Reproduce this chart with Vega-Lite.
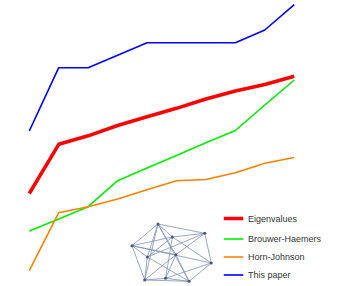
{
  "$schema": "https://vega.github.io/schema/vega-lite/v6.json",
  "width": 361,
  "height": 286,
  "autosize": "none",
  "padding": 0,
  "config": {"view": {"stroke": null}},
  "datasets": {
    "lines": [
      {"series": "Eigenvalues", "k": 0, "v": 9.25},
      {"series": "Eigenvalues", "k": 1, "v": 14.17},
      {"series": "Eigenvalues", "k": 2, "v": 15.02},
      {"series": "Eigenvalues", "k": 3, "v": 16.05},
      {"series": "Eigenvalues", "k": 4, "v": 16.92},
      {"series": "Eigenvalues", "k": 5, "v": 17.77},
      {"series": "Eigenvalues", "k": 6, "v": 18.7},
      {"series": "Eigenvalues", "k": 7, "v": 19.5},
      {"series": "Eigenvalues", "k": 8, "v": 20.15},
      {"series": "Eigenvalues", "k": 9, "v": 20.98},
      {"series": "Brouwer-Haemers", "k": 0, "v": 5.5},
      {"series": "Brouwer-Haemers", "k": 1, "v": 6.7},
      {"series": "Brouwer-Haemers", "k": 2, "v": 7.93},
      {"series": "Brouwer-Haemers", "k": 3, "v": 10.53},
      {"series": "Brouwer-Haemers", "k": 4, "v": 11.8},
      {"series": "Brouwer-Haemers", "k": 5, "v": 13.06},
      {"series": "Brouwer-Haemers", "k": 6, "v": 14.33},
      {"series": "Brouwer-Haemers", "k": 7, "v": 15.55},
      {"series": "Brouwer-Haemers", "k": 8, "v": 18.1},
      {"series": "Brouwer-Haemers", "k": 9, "v": 20.6},
      {"series": "Horn-Johnson", "k": 0, "v": 1.53},
      {"series": "Horn-Johnson", "k": 1, "v": 7.33},
      {"series": "Horn-Johnson", "k": 2, "v": 7.93},
      {"series": "Horn-Johnson", "k": 3, "v": 8.7},
      {"series": "Horn-Johnson", "k": 4, "v": 9.63},
      {"series": "Horn-Johnson", "k": 5, "v": 10.53},
      {"series": "Horn-Johnson", "k": 6, "v": 10.65},
      {"series": "Horn-Johnson", "k": 7, "v": 11.32},
      {"series": "Horn-Johnson", "k": 8, "v": 12.27},
      {"series": "Horn-Johnson", "k": 9, "v": 12.85},
      {"series": "This paper", "k": 0, "v": 15.5},
      {"series": "This paper", "k": 1, "v": 21.83},
      {"series": "This paper", "k": 2, "v": 21.83},
      {"series": "This paper", "k": 3, "v": 23.08},
      {"series": "This paper", "k": 4, "v": 24.33},
      {"series": "This paper", "k": 5, "v": 24.33},
      {"series": "This paper", "k": 6, "v": 24.33},
      {"series": "This paper", "k": 7, "v": 24.33},
      {"series": "This paper", "k": 8, "v": 25.6},
      {"series": "This paper", "k": 9, "v": 28.13}
    ],
    "nodes": [
      {"id": "A", "x": 4.37, "y": 6.2},
      {"id": "B", "x": 4.86, "y": 4.9},
      {"id": "C", "x": 5.96, "y": 5.27},
      {"id": "D", "x": 3.49, "y": 4.03},
      {"id": "E", "x": 4.01, "y": 2.9},
      {"id": "F", "x": 4.98, "y": 3.13},
      {"id": "G", "x": 6.18, "y": 2.3},
      {"id": "H", "x": 3.92, "y": 0.6},
      {"id": "I", "x": 4.63, "y": 0.77},
      {"id": "J", "x": 5.43, "y": 0.47}
    ],
    "edges": [
      {"x1": 4.37, "y1": 6.2, "x2": 4.86, "y2": 4.9},
      {"x1": 4.37, "y1": 6.2, "x2": 5.96, "y2": 5.27},
      {"x1": 4.37, "y1": 6.2, "x2": 3.49, "y2": 4.03},
      {"x1": 4.37, "y1": 6.2, "x2": 4.01, "y2": 2.9},
      {"x1": 4.37, "y1": 6.2, "x2": 4.98, "y2": 3.13},
      {"x1": 4.37, "y1": 6.2, "x2": 3.92, "y2": 0.6},
      {"x1": 4.37, "y1": 6.2, "x2": 5.43, "y2": 0.47},
      {"x1": 4.86, "y1": 4.9, "x2": 5.96, "y2": 5.27},
      {"x1": 4.86, "y1": 4.9, "x2": 3.49, "y2": 4.03},
      {"x1": 4.86, "y1": 4.9, "x2": 4.01, "y2": 2.9},
      {"x1": 4.86, "y1": 4.9, "x2": 4.63, "y2": 0.77},
      {"x1": 4.86, "y1": 4.9, "x2": 6.18, "y2": 2.3},
      {"x1": 5.96, "y1": 5.27, "x2": 6.18, "y2": 2.3},
      {"x1": 5.96, "y1": 5.27, "x2": 4.98, "y2": 3.13},
      {"x1": 5.96, "y1": 5.27, "x2": 4.01, "y2": 2.9},
      {"x1": 3.49, "y1": 4.03, "x2": 4.01, "y2": 2.9},
      {"x1": 3.49, "y1": 4.03, "x2": 3.92, "y2": 0.6},
      {"x1": 3.49, "y1": 4.03, "x2": 4.98, "y2": 3.13},
      {"x1": 3.49, "y1": 4.03, "x2": 6.18, "y2": 2.3},
      {"x1": 4.01, "y1": 2.9, "x2": 3.92, "y2": 0.6},
      {"x1": 4.01, "y1": 2.9, "x2": 5.43, "y2": 0.47},
      {"x1": 4.98, "y1": 3.13, "x2": 3.92, "y2": 0.6},
      {"x1": 4.98, "y1": 3.13, "x2": 4.63, "y2": 0.77},
      {"x1": 4.98, "y1": 3.13, "x2": 5.43, "y2": 0.47},
      {"x1": 6.18, "y1": 2.3, "x2": 5.43, "y2": 0.47},
      {"x1": 6.18, "y1": 2.3, "x2": 4.63, "y2": 0.77},
      {"x1": 3.92, "y1": 0.6, "x2": 4.63, "y2": 0.77},
      {"x1": 3.92, "y1": 0.6, "x2": 5.43, "y2": 0.47},
      {"x1": 4.63, "y1": 0.77, "x2": 5.43, "y2": 0.47}
    ]
  },
  "layer": [
    {
      "data": {"name": "edges"},
      "mark": {"type": "rule", "color": "#7d90b6", "strokeWidth": 0.8},
      "encoding": {
        "x": {"field": "x1", "type": "quantitative", "scale": {"domain": [-0.995, 11.267], "nice": false, "zero": false}, "axis": null},
        "y": {"field": "y1", "type": "quantitative", "scale": {"domain": [0, 28.6], "nice": false, "zero": false}, "axis": null},
        "x2": {"field": "x2"},
        "y2": {"field": "y2"}
      }
    },
    {
      "data": {"name": "nodes"},
      "mark": {"type": "circle", "size": 9, "color": "#4a5573", "opacity": 1},
      "encoding": {
        "x": {"field": "x", "type": "quantitative", "axis": null},
        "y": {"field": "y", "type": "quantitative", "axis": null}
      }
    },
    {
      "data": {"name": "lines"},
      "mark": {"type": "line", "strokeJoin": "round"},
      "encoding": {
        "x": {"field": "k", "type": "quantitative", "axis": null},
        "y": {"field": "v", "type": "quantitative", "axis": null},
        "color": {
          "field": "series", "type": "nominal",
          "scale": {"domain": ["Eigenvalues", "Brouwer-Haemers", "Horn-Johnson", "This paper"], "range": ["#ff0000", "#00ee00", "#ff8000", "#0000ff"]},
          "legend": {
            "title": null, "orient": "none", "legendX": 222, "legendY": 207, "padding": 0,
            "symbolType": "stroke", "symbolSize": 380, "rowPadding": 2, "labelOffset": 3,
            "labelFont": "Liberation Sans", "labelFontSize": 9, "labelColor": "#333333"
          }
        },
        "strokeWidth": {
          "field": "series", "type": "nominal",
          "scale": {"type": "ordinal", "domain": ["Eigenvalues", "Brouwer-Haemers", "Horn-Johnson", "This paper"], "range": [3.5, 1.6, 1.6, 1.6]},
          "legend": {
            "title": null, "orient": "none", "legendX": 222, "legendY": 207, "padding": 0,
            "symbolType": "stroke", "symbolSize": 380, "rowPadding": 2, "labelOffset": 3,
            "labelFont": "Liberation Sans", "labelFontSize": 9, "labelColor": "#333333"
          }
        }
      }
    }
  ]
}
